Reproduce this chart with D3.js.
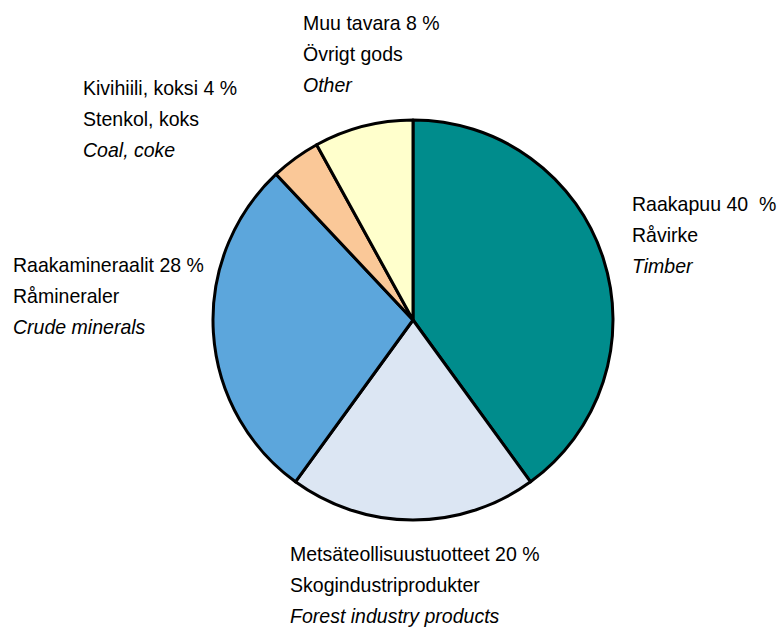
<!DOCTYPE html>
<html>
<head>
<meta charset="utf-8">
<script src="https://cdn.jsdelivr.net/npm/d3@7"></script>
<style>
  body { margin: 0; background: #fff; }
  text { font-family: "Liberation Sans", Arial, sans-serif; font-size: 21px; fill: #000; white-space: pre; }
  .en { font-style: italic; }
</style>
</head>
<body>
<svg width="782" height="627"></svg>
<script>
const fiNames = ['Raakapuu 40  %', 'Metsäteollisuustuotteet 20 %', 'Raakamineraalit 28 %', 'Kivihiili, koksi 4 %', 'Muu tavara 8 %'];
const svNames = ['Råvirke', 'Skogindustriprodukter', 'Råmineraler', 'Stenkol, koks', 'Övrigt gods'];
const enNames = ['Timber', 'Forest industry products', 'Crude minerals', 'Coal, coke', 'Other'];
const shares = [40, 20, 28, 4, 8];
const colors = ['#008c8c', '#dce6f3', '#5ca6dc', '#fac898', '#ffffcc'];

// label anchor (left x, first baseline y)
const labelPos = [[632, 211], [290, 561], [13, 272], [83, 95], [303, 30]];

const svg = d3.select('svg');
const cx = 413, cy = 320, r = 200;

const pie = d3.pie().sort(null).value(d => d)(shares);
const arc = d3.arc().innerRadius(0).outerRadius(r);

svg.append('g')
  .attr('transform', `translate(${cx},${cy})`)
  .selectAll('path')
  .data(pie)
  .enter()
  .append('path')
  .attr('d', arc)
  .attr('fill', (d, i) => colors[i])
  .attr('stroke', '#000')
  .attr('stroke-width', 3)
  .attr('stroke-linejoin', 'round');

// the original font is a narrow sans, so squeeze the text a bit
const labels = svg.append('g')
  .selectAll('g')
  .data(fiNames)
  .enter()
  .append('g')
  .attr('transform', (d, i) => `translate(${labelPos[i][0]},${labelPos[i][1]}) scale(0.93,1)`);

labels.append('text').attr('y', 0).text(d => d);
labels.append('text').attr('y', 31).text((d, i) => svNames[i]);
labels.append('text').attr('class', 'en').attr('y', 62).text((d, i) => enNames[i]);
</script>
</body>
</html>
